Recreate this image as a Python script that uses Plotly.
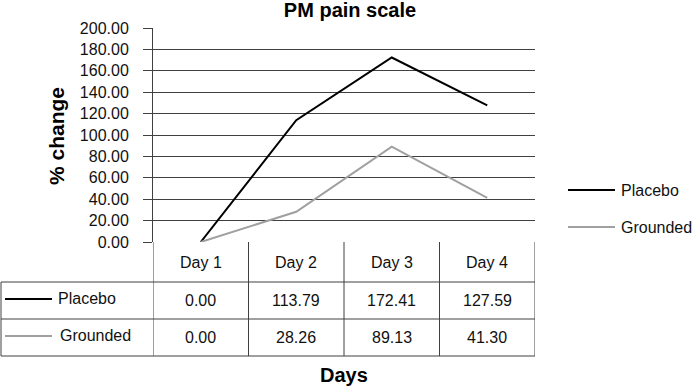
import plotly.graph_objects as go

days = ["Day 1", "Day 2", "Day 3", "Day 4"]
series_names = ["Placebo", "Grounded"]
placebo = [0.00, 113.79, 172.41, 127.59]
grounded = [0.00, 28.26, 89.13, 41.30]
y_ticks = [0, 20, 40, 60, 80, 100, 120, 140, 160, 180, 200]

W, H = 694, 386
L, R, T, B = 153, 535, 28, 242
colors = ["#000000", "#a0a0a0"]
grid = "#404040"
FONT = "Liberation Sans, Arial, sans-serif"

def px(p):
    return (p - L) / (R - L)

def py(p):
    return (B - p) / (B - T)

xs = list(range(len(days)))
fig = go.Figure()
for name, vals, c in zip(series_names, [placebo, grounded], colors):
    fig.add_trace(go.Scatter(x=xs, y=vals, mode="lines", name=name,
                             line=dict(color=c, width=2), showlegend=False))

shapes = []
annotations = []
# table grid
row_lines = [282, 319, 356]
for yl in row_lines:
    shapes.append(dict(type="line", xref="paper", yref="paper", x0=px(1), x1=px(R),
                       y0=py(yl), y1=py(yl), line=dict(color=grid, width=1)))
shapes.append(dict(type="line", xref="paper", yref="paper", x0=px(1), x1=px(1),
                   y0=py(282), y1=py(356), line=dict(color=grid, width=1)))
for i in range(len(days) + 1):
    xv = i - 0.5
    shapes.append(dict(type="line", xref="x", yref="paper", x0=xv, x1=xv,
                       y0=py(B), y1=py(356), line=dict(color=grid, width=1)))

def txt(x, y, text, xref="paper", xanchor="center", size=16, color="#111", **kw):
    annotations.append(dict(x=x, y=y, xref=xref, yref="paper", text=text,
                            showarrow=False, xanchor=xanchor, yanchor="middle",
                            font=dict(size=size, color=color), **kw))

# header
for i, d in enumerate(days):
    txt(i, py(262), d, xref="x")
row_y = [300, 337]
for r, (name, vals, c) in enumerate(zip(series_names, [placebo, grounded], colors)):
    for i, v in enumerate(vals):
        txt(i, py(row_y[r]), f"{v:.2f}", xref="x")
    shapes.append(dict(type="line", xref="paper", yref="paper", x0=px(5), x1=px(52),
                       y0=py(row_y[r] - 1), y1=py(row_y[r] - 1), line=dict(color=c, width=2)))
    txt(px(56 + r * 2), py(row_y[r] - 2), name, xanchor="left")
    # right legend
    ly = [190, 227][r]
    shapes.append(dict(type="line", xref="paper", yref="paper", x0=px(568), x1=px(615),
                       y0=py(ly), y1=py(ly), line=dict(color=c, width=2)))
    txt(px(619), py(ly), name, xanchor="left")

txt(px(56), py(136), "<b>% change</b>", size=21, color="#000", textangle=-90)
txt(px(344), py(375), "<b>Days</b>", size=20, color="#000")

fig.update_layout(
    width=W, height=H,
    margin=dict(l=L, r=W - R, t=T, b=H - B, autoexpand=False),
    paper_bgcolor="white", plot_bgcolor="white",
    font=dict(family=FONT, size=16, color="#111"),
    title=dict(text="<b>PM pain scale</b>", x=350 / W, xanchor="center",
               y=1 - 10 / H, yanchor="middle", font=dict(size=20, color="#000")),
    shapes=shapes, annotations=annotations,
    xaxis=dict(range=[-0.5, 3.5], showticklabels=False, showgrid=False,
               zeroline=False, showline=False, ticks=""),
    yaxis=dict(range=[0, 200], tickvals=y_ticks, tickformat=".2f",
               showgrid=True, gridcolor=grid, gridwidth=1,
               zeroline=False, showline=True, linecolor=grid, linewidth=1,
               ticks="outside", ticklen=9, tickcolor=grid,
               tickfont=dict(size=16, color="#111"), ticklabelstandoff=11),
)

fig.write_html("out.html", config={"displayModeBar": False},
               post_script="document.body.style.margin='0';")
